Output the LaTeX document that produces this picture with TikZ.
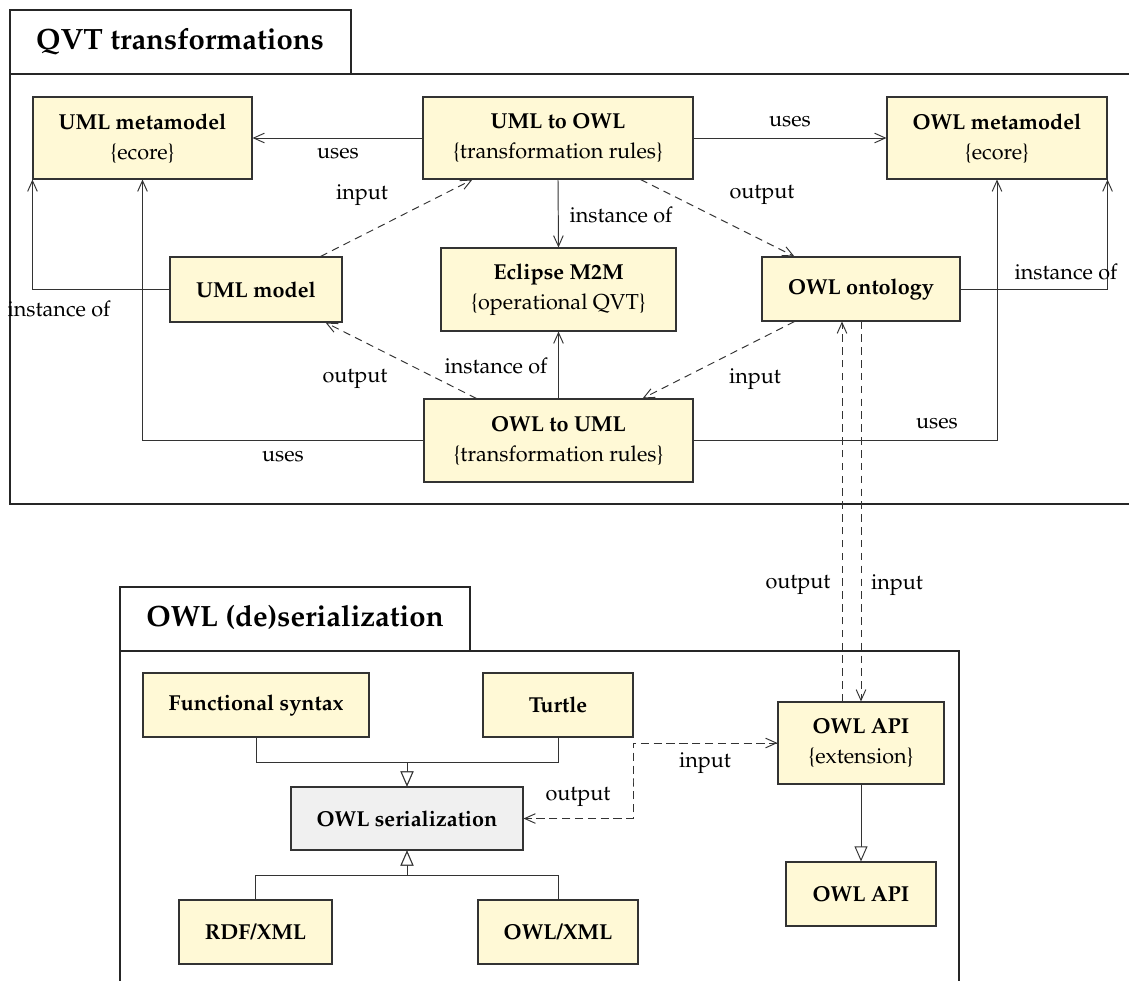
\documentclass[tikz,border=0pt]{standalone}
\usepackage[T1]{fontenc}
\usepackage{mathpazo}
\usetikzlibrary{arrows.meta,calc}
\definecolor{boxyellow}{RGB}{255,249,214}
\definecolor{boxgray}{RGB}{240,240,240}
\begin{document}
\begin{tikzpicture}[x=0.467pt,y=-0.467pt,
  font=\fontsize{10.1}{14}\selectfont,
  box/.style={draw=black!80, line width=0.5pt, fill=boxyellow, inner sep=0pt, align=center},
  sz/.style 2 args={minimum width={#1*0.467pt}, minimum height={#2*0.467pt}},
  lbl/.style={inner sep=0pt},
  conn/.style={draw=black!80, line width=0.45pt},
  uarrow/.style={conn, -{Straight Barb[length=5pt,width=4.5pt]}},
  dasharrow/.style={uarrow, dash pattern=on 3.5pt off 2.5pt},
  gen/.style={conn, -{Triangle[open,length=7pt,width=6pt,fill=white]}},
  frame/.style={draw=black!85, line width=0.55pt},
  title/.style={inner sep=0pt, font=\fontsize{13.7}{16}\selectfont\bfseries}
]
\useasboundingbox (0,0) rectangle (1129,980);
\clip (0,0) rectangle (1129,980);

% frames
\draw[frame] (10,10) rectangle (351,74);
\draw[frame] (1200,74) -- (10,74) -- (10,504) -- (1200,504);
\node[title] (qvttitle) at (180,42) {QVT transformations};
\draw[frame] (120,587) rectangle (470,651);
\draw[frame] (120,1000) -- (120,651) -- (959,651) -- (959,1000);
\node[title] (owltitle) at (295,618) {OWL (de)serialization};

% QVT boxes
\node[box, sz={219}{82}] (umlmm) at (142.5,138) {\textbf{UML metamodel}\\\{ecore\}};
\node[box, sz={270}{82}] (uml2owl) at (558,138) {\textbf{UML to OWL}\\\{transformation rules\}};
\node[box, sz={220}{82}] (owlmm) at (997,138) {\textbf{OWL metamodel}\\\{ecore\}};
\node[box, sz={172}{65}] (umlmodel) at (256,289.5) {\textbf{UML model}};
\node[box, sz={235}{83}] (m2m) at (558.5,289.5) {\textbf{Eclipse M2M}\\\{operational QVT\}};
\node[box, sz={198}{64}] (owlont) at (861,289) {\textbf{OWL ontology}};
\node[box, sz={269}{83}] (owl2uml) at (558.5,440.5) {\textbf{OWL to UML}\\\{transformation rules\}};

% serialization boxes
\node[box, sz={226}{64}] (func) at (256,705) {\textbf{Functional syntax}};
\node[box, sz={150}{64}] (turtle) at (558,705) {\textbf{Turtle}};
\node[box, sz={232}{63}, fill=boxgray] (owlser) at (407,818.5) {\textbf{OWL serialization}};
\node[box, sz={153}{64}] (rdf) at (255.5,932) {\textbf{RDF/XML}};
\node[box, sz={160}{64}] (owlxml) at (558,932) {\textbf{OWL/XML}};
\node[box, sz={166}{82}] (apiext) at (861,743) {\textbf{OWL API}\\\{extension\}};
\node[box, sz={150}{64}] (api) at (861,894) {\textbf{OWL API}};

% QVT connectors
\draw[uarrow] (uml2owl.west) -- (umlmm.east);
\draw[uarrow] (uml2owl.east) -- (owlmm.west);
\draw[uarrow] (uml2owl.south) -- (m2m.north);
\draw[uarrow] (owl2uml.north) -- (m2m.south);
\draw[dasharrow] ($(umlmodel.north east)+(-22,0)$) -- ($(uml2owl.south west)+(50,0)$);
\draw[dasharrow] ($(uml2owl.south east)+(-53,0)$) -- ($(owlont.north west)+(33,0)$);
\draw[dasharrow] ($(owl2uml.north west)+(53,0)$) -- ($(umlmodel.south east)+(-17,0)$);
\draw[dasharrow] ($(owlont.south west)+(33,0)$) -- ($(owl2uml.north east)+(-51,0)$);
\draw[uarrow] (umlmodel.west) -| (umlmm.south west);
\draw[uarrow] (owl2uml.west) -| (umlmm.south);
\draw[uarrow] (owlont.east) -| (owlmm.south east);
\draw[uarrow] (owl2uml.east) -| (owlmm.south);
\draw[dasharrow] ([xshift=-8.87pt]apiext.north) -- ([xshift=-8.87pt]owlont.south);
\draw[dasharrow] (owlont.south) -- (apiext.north);

% serialization connectors
\coordinate (j1) at (407,762);
\coordinate (j2) at (407,875);
\coordinate (bx) at (633,780);
\draw[gen] (func.south) |- (j1) -- (owlser.north);
\draw[gen] (turtle.south) |- (j1) -- (owlser.north);
\draw[gen] (rdf.north) |- (j2) -- (owlser.south);
\draw[gen] (owlxml.north) |- (j2) -- (owlser.south);
\draw[gen] (apiext.south) -- (api.north);
\draw[dasharrow] (owlser.east) -| (bx) |- (apiext.west);
\draw[dasharrow] (apiext.west) -| (bx) |- (owlser.east);

% labels
\node[lbl] (l1) at (338,153) {uses};
\node[lbl] (l2) at (790,121) {uses};
\node[lbl] (l3) at (621,215) {instance of};
\node[lbl] (l4) at (362,195) {input};
\node[lbl] (l5) at (762,195) {output};
\node[lbl] (l6) at (355,379) {output};
\node[lbl] (l7) at (755,379) {input};
\node[lbl] (l8) at (496,366) {instance of};
\node[lbl] (l9) at (59,309) {instance of};
\node[lbl] (l10) at (283,456) {uses};
\node[lbl] (l11) at (1066,272) {instance of};
\node[lbl] (l12) at (937,423) {uses};
\node[lbl] (l13) at (798,585) {output};
\node[lbl] (l14) at (897,585) {input};
\node[lbl] (l15) at (705,763) {input};
\node[lbl] (l16) at (578,797) {output};
\end{tikzpicture}
\end{document}
